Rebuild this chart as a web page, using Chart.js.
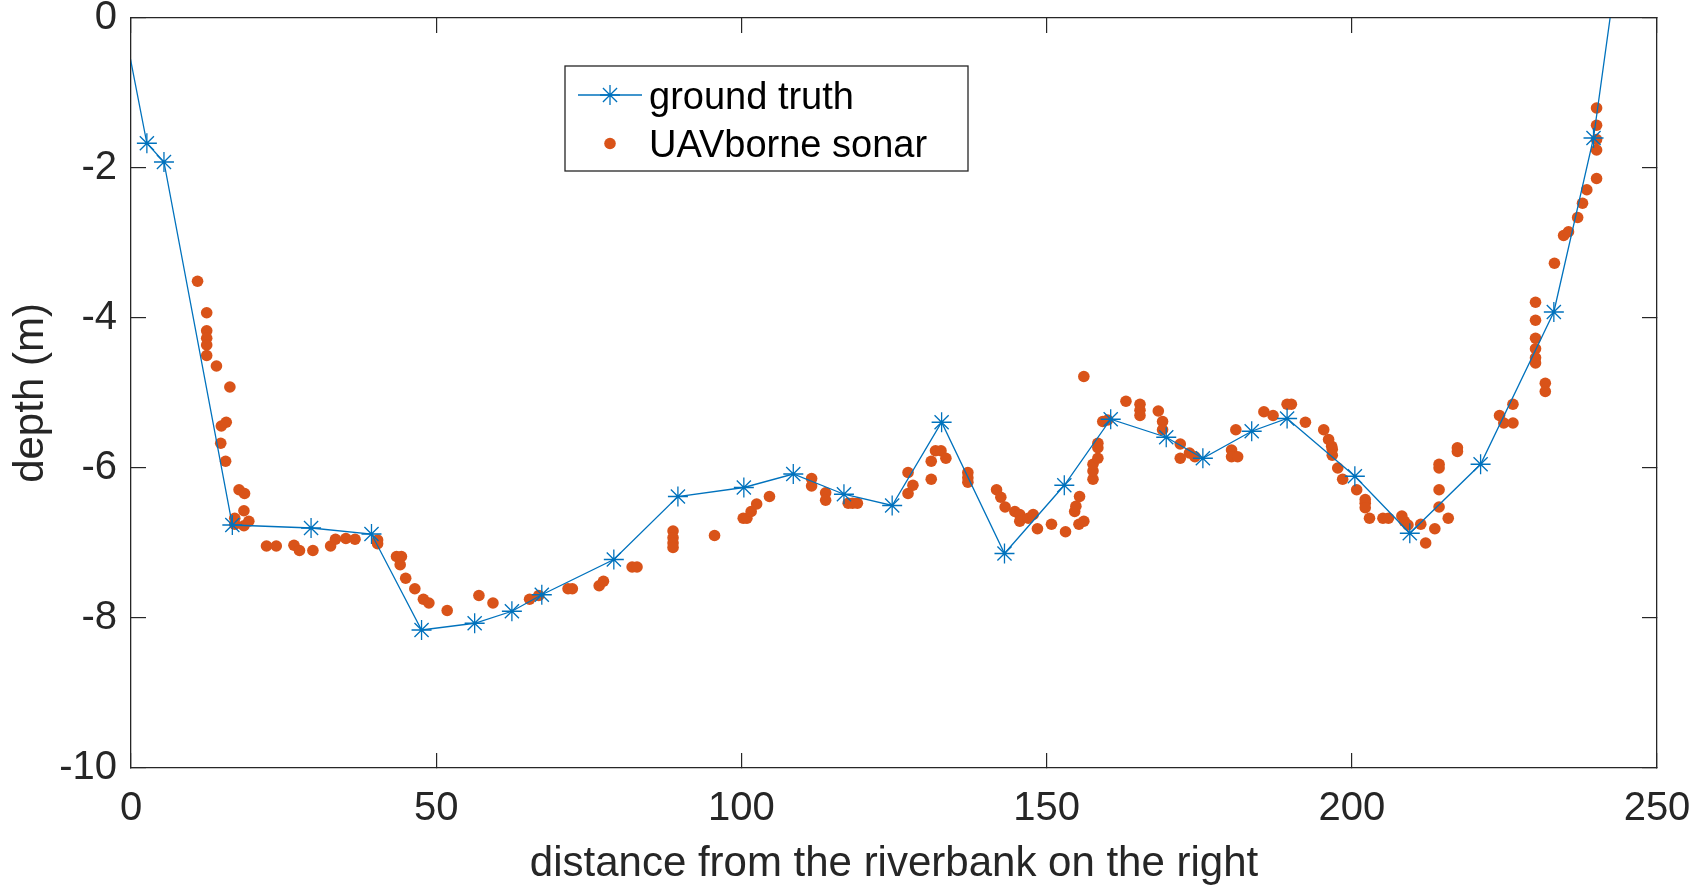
<!DOCTYPE html>
<html>
<head>
<meta charset="utf-8">
<title>depth profile</title>
<script src="https://cdn.jsdelivr.net/npm/chart.js@4.4.1/dist/chart.umd.min.js"></script>
<style>
  html, body { margin: 0; padding: 0; background: #fff; }
  #wrap { width: 1701px; height: 887px; }
</style>
</head>
<body>
<div id="wrap"><canvas id="grafico" width="1701" height="887"></canvas></div>
<script>
// ground truth (the first and last points sit just outside the axes, the line is cut there)
const gtX = [-2, 2.6, 5.4, 16.6, 29.5, 39.4, 47.6, 56.3, 62.4, 67.3, 79.1, 89.6, 100.4, 108.5, 116.8, 124.7,
  132.8, 143.1, 152.9, 160.5, 169.6, 175.6, 183.6, 189.4, 200.5, 209.5, 221.1, 233.1, 239.6, 243.5];
const gtY = [0.25, -1.67, -1.92, -6.76, -6.80, -6.88, -8.16, -8.07, -7.91, -7.69, -7.22, -6.38, -6.26, -6.08, -6.35, -6.50,
  -5.39, -7.14, -6.23, -5.35, -5.59, -5.87, -5.51, -5.34, -6.11, -6.87, -5.95, -3.92, -1.60, 0.70];

// UAVborne sonar
const sonarX = [10.9, 12.4, 12.4, 12.4, 12.4, 12.4, 14.0, 16.2, 14.8, 15.6, 14.7, 15.5, 17.7, 18.6, 18.5, 17.0, 17.0, 18.5, 19.3,
  22.2, 23.8, 26.7, 27.6, 29.8, 32.7, 33.5, 35.2, 36.7, 40.4, 40.4, 43.5, 44.3, 44.1, 45.0, 46.5, 47.9, 48.8, 51.8,
  57.0, 59.3, 65.3, 66.8, 71.6, 72.3, 76.7, 77.4, 82.1, 82.9, 88.8, 88.8, 88.8, 88.8, 95.6,
  100.3, 100.9, 101.6, 102.5, 104.6, 111.5, 111.5, 113.8, 113.8, 117.5, 118.2, 119.0,
  127.3, 128.1, 127.3, 131.1, 131.1, 131.8, 132.7, 133.5, 137.1, 137.1, 137.1,
  141.8, 142.5, 143.2, 144.8, 145.6, 145.6, 147.0, 147.8, 148.5, 150.8, 153.1, 155.3, 156.1, 154.6, 154.8, 155.4, 156.1,
  157.6, 157.6, 157.6, 158.4, 158.4, 158.4, 159.2, 160.0, 163.0, 165.3, 165.3, 165.3, 168.3, 169.0, 169.0,
  171.9, 171.9, 173.4, 174.3, 181.0, 180.3, 180.3, 181.3, 185.6, 187.1, 189.4, 190.1, 192.4, 195.4, 196.2, 196.7, 196.8, 196.8,
  197.7, 198.5, 200.8, 202.2, 202.2, 202.2, 202.9, 205.1, 206.0, 208.2, 208.6, 209.2, 211.3, 212.1, 213.6,
  214.3, 214.3, 214.3, 214.3, 215.8, 217.3, 217.3, 224.2, 224.9, 226.4, 226.4,
  230.1, 230.1, 230.1, 230.1, 230.1, 230.1, 231.7, 231.7, 233.2, 234.7, 235.5, 237.0, 237.8, 238.5,
  240.1, 240.1, 240.1, 240.1, 240.1];
const sonarY = [-3.51, -3.93, -4.17, -4.27, -4.36, -4.50, -4.64, -4.92, -5.44, -5.39, -5.67, -5.91, -6.29, -6.34, -6.57, -6.67, -6.75, -6.77, -6.71,
  -7.04, -7.04, -7.03, -7.10, -7.10, -7.04, -6.95, -6.94, -6.95, -6.96, -7.01, -7.18, -7.18, -7.29, -7.47, -7.61, -7.75, -7.80, -7.90,
  -7.70, -7.80, -7.75, -7.70, -7.61, -7.61, -7.57, -7.51, -7.32, -7.32, -6.84, -6.93, -7.00, -7.06, -6.90,
  -6.67, -6.67, -6.58, -6.48, -6.38, -6.14, -6.24, -6.33, -6.43, -6.47, -6.47, -6.47,
  -6.06, -6.23, -6.34, -5.91, -6.15, -5.77, -5.77, -5.87, -6.06, -6.13, -6.19,
  -6.29, -6.39, -6.52, -6.58, -6.62, -6.71, -6.67, -6.62, -6.81, -6.75, -6.85, -6.75, -6.71, -6.58, -6.51, -6.38, -4.78,
  -6.15, -6.04, -5.95, -5.87, -5.73, -5.67, -5.38, -5.36, -5.11, -5.15, -5.23, -5.30, -5.24, -5.38, -5.49,
  -5.68, -5.87, -5.80, -5.85, -5.49, -5.76, -5.85, -5.85, -5.25, -5.30, -5.15, -5.15, -5.39, -5.49, -5.62, -5.71, -5.75, -5.83,
  -6.00, -6.15, -6.29, -6.42, -6.47, -6.53, -6.67, -6.67, -6.67, -6.64, -6.71, -6.76, -6.75, -7.00, -6.81,
  -6.52, -6.29, -6.00, -5.95, -6.67, -5.73, -5.78, -5.30, -5.40, -5.40, -5.15,
  -3.79, -4.03, -4.27, -4.41, -4.53, -4.60, -4.87, -4.98, -3.27, -2.90, -2.85, -2.66, -2.47, -2.29,
  -2.14, -1.76, -1.62, -1.43, -1.20];

const xTicks = [0, 50, 100, 150, 200, 250];
const yTicks = [-10, -8, -6, -4, -2, 0];

const fonte = 'Arial, "Liberation Sans", Helvetica, sans-serif';
const corEixo = '#262626';
const azul = '#0072BD';
const laranja = '#D95319';

// caixa da legenda (posicionada como no original)
const caixaLegenda = { left: 565, top: 66, right: 968, bottom: 171 };

const legendaPlugin = {
  id: 'legendaInterna',
  afterDraw(chart) {
    const ctx = chart.ctx;
    const b = caixaLegenda;
    ctx.save();
    ctx.fillStyle = '#ffffff';
    ctx.fillRect(b.left, b.top, b.right - b.left, b.bottom - b.top);
    ctx.strokeStyle = corEixo;
    ctx.lineWidth = 1.3;
    ctx.strokeRect(b.left, b.top, b.right - b.left, b.bottom - b.top);

    const linhas = [95, 143.5];
    chart.data.datasets.forEach((ds, i) => {
      const y = linhas[i];
      if (ds.showLine) {
        ctx.strokeStyle = ds.borderColor;
        ctx.lineWidth = ds.borderWidth;
        ctx.beginPath();
        ctx.moveTo(578, y);
        ctx.lineTo(642, y);
        ctx.stroke();
      }
      ctx.strokeStyle = ds.pointBorderColor;
      ctx.fillStyle = ds.pointBackgroundColor;
      Chart.helpers.drawPoint(ctx, {
        pointStyle: ds.pointStyle,
        radius: ds.pointRadius,
        rotation: 0,
        borderWidth: ds.pointBorderWidth
      }, 610, y);
      ctx.fillStyle = '#000000';
      ctx.font = '38px ' + fonte;
      ctx.textAlign = 'left';
      ctx.textBaseline = 'middle';
      ctx.fillText(ds.label, 649, y + 3.5);
    });
    ctx.restore();
  }
};

const verdade = gtX.map((x, i) => ({ x: x, y: gtY[i] }));
const sonar = sonarX.map((x, i) => ({ x: x, y: sonarY[i] }));

// sem folga extra das etiquetas: a area do grafico fica exatamente dentro do padding
function semFolga(s) {
  s.paddingTop = 0;
  s.paddingBottom = 0;
  s.paddingLeft = 0;
  s.paddingRight = 0;
}

const eixoBase = {
  type: 'linear',
  grid: { drawOnChartArea: false, drawTicks: true, tickLength: -15, color: corEixo, lineWidth: 1.2 },
  border: { display: true, color: corEixo, width: 1.3 }
};

new Chart(document.getElementById('grafico').getContext('2d'), {
  type: 'scatter',
  data: {
    datasets: [{
      label: 'ground truth',
      data: verdade,
      showLine: true,
      borderColor: azul,
      borderWidth: 1.3,
      pointStyle: 'star',
      pointRadius: 10,
      pointBorderColor: azul,
      pointBackgroundColor: azul,
      pointBorderWidth: 1.3,
      tension: 0
    }, {
      label: 'UAVborne sonar',
      data: sonar,
      showLine: false,
      pointStyle: 'circle',
      pointRadius: 5.8,
      pointBorderColor: laranja,
      pointBackgroundColor: laranja,
      pointBorderWidth: 0
    }]
  },
  options: {
    responsive: false,
    animation: false,
    events: [],
    layout: { padding: { left: 0, top: 18, right: 44, bottom: 0 } },
    plugins: { legend: { display: false }, tooltip: { enabled: false } },
    scales: {
      x: {
        ...eixoBase,
        position: 'bottom',
        min: 0, max: 250,
        afterBuildTicks: s => { s.ticks = xTicks.map(v => ({ value: v })); },
        ticks: { padding: 32, color: corEixo, font: { family: fonte, size: 40 }, maxRotation: 0 },
        title: { display: true, text: 'distance from the riverbank on the right', color: corEixo,
                 font: { family: fonte, size: 42, lineHeight: 1.06 }, padding: { top: 0, bottom: 0 } },
        afterFit: s => { s.height = 887 - 768; semFolga(s); }
      },
      y: {
        ...eixoBase,
        position: 'left',
        min: -10, max: 0,
        afterBuildTicks: s => { s.ticks = yTicks.map(v => ({ value: v })); },
        ticks: { padding: 29, color: corEixo, font: { family: fonte, size: 40 } },
        title: { display: true, text: 'depth (m)', color: corEixo,
                 font: { family: fonte, size: 42 }, padding: { top: 6, bottom: 0 } },
        afterFit: s => { s.width = 131; semFolga(s); }
      },
      xTopo: {
        ...eixoBase,
        position: 'top',
        min: 0, max: 250,
        afterBuildTicks: s => { s.ticks = xTicks.map(v => ({ value: v })); },
        ticks: { display: false },
        afterFit: s => { s.height = 0; semFolga(s); }
      },
      yDireita: {
        ...eixoBase,
        position: 'right',
        min: -10, max: 0,
        afterBuildTicks: s => { s.ticks = yTicks.map(v => ({ value: v })); },
        ticks: { display: false },
        afterFit: s => { s.width = 0; semFolga(s); }
      }
    }
  },
  plugins: [legendaPlugin]
});
</script>
</body>
</html>
